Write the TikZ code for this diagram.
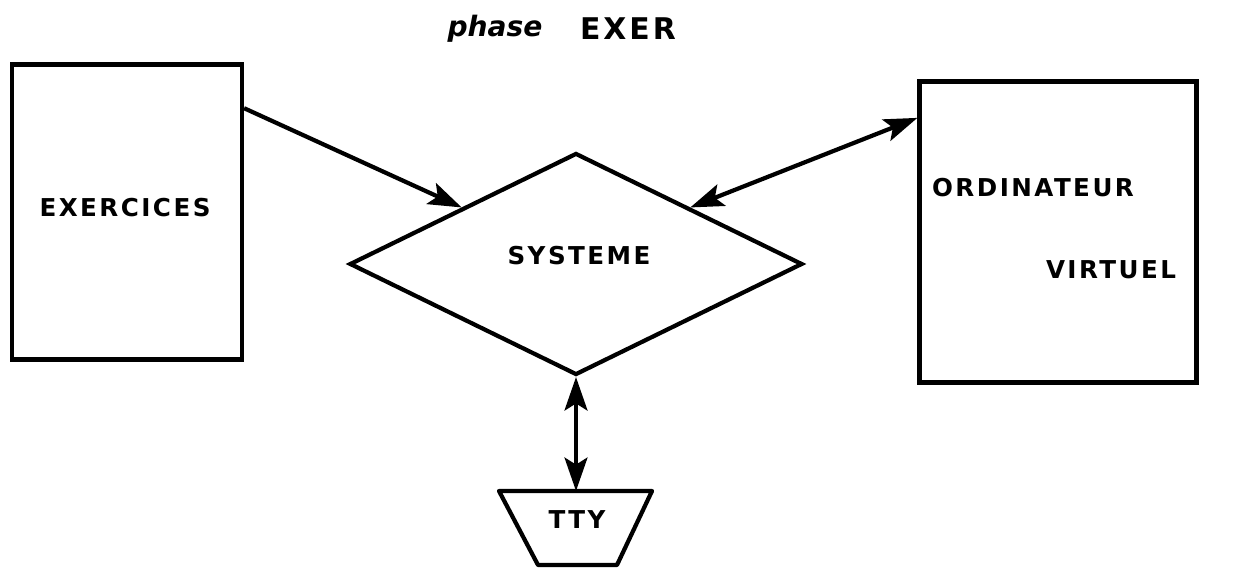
\documentclass[tikz,border=0pt]{standalone}
\usepackage{fontspec}
\setmainfont{DejaVu Sans}
\newfontfamily\handfont{DejaVu Sans}[LetterSpace=10]
\usetikzlibrary{shapes.geometric,arrows.meta,calc}
\begin{document}
\begin{tikzpicture}[x=0.02cm,y=-0.02cm,
  box/.style={draw,line width=2.4pt,inner sep=0pt},
  lbl/.style={font=\handfont\bfseries\fontsize{14}{16}\selectfont,inner sep=0pt},
  conn/.style={line width=2.4pt,-{Stealth[length=19pt,width=13pt,inset=4pt]}},
  dconn/.style={line width=2.4pt,{Stealth[length=19pt,width=13pt,inset=4pt]}-{Stealth[length=19pt,width=13pt,inset=4pt]}}]
\useasboundingbox (0,0) rectangle (1237,571);
% boxes
\node[box,minimum width=4.6cm,minimum height=5.9cm] (ex) at (127,212) {};
\node[box,minimum width=5.54cm,minimum height=6.02cm] (ord) at (1058,232) {};
\node[draw,line width=2.4pt,diamond,inner sep=0pt,minimum width=9.06cm,minimum height=4.44cm] (sys) at (576,264) {};
% TTY trapezoid
\coordinate (ttl) at (499,491);
\coordinate (ttr) at (652,491);
\coordinate (tbr) at (617,565);
\coordinate (tbl) at (538,565);
\coordinate (ttop) at (576,491);
\draw[line width=2.4pt,line join=round] (ttl) -- (ttr) -- (tbr) -- (tbl) -- cycle;
% texts
\node[lbl] (t1) at (125,208) {EXERCICES};
\node[lbl] (t2) at (579,256) {SYSTEME};
\node[lbl] (t3) at (1033,188) {ORDINATEUR};
\node[lbl] (t4) at (1111,270) {VIRTUEL};
\node[lbl] (t5) at (577,520) {TTY};
\node[inner sep=0pt,anchor=base,font=\itshape\bfseries\fontsize{16}{18}\selectfont] (ph) at (495,37) {phase};
\node[lbl,anchor=base,font=\handfont\bfseries\fontsize{17}{19}\selectfont] (ex2) at (628,40) {EXER};
% connectors
\coordinate (a1) at ($(ex.north east)!0.153!(ex.south east)$);
\coordinate (a2) at ($(ord.north west)!0.126!(ord.south west)$);
\draw[conn] (a1) -- (sys.north west);
\draw[dconn] (sys.north east) -- (a2);
\draw[dconn] (sys.south) -- (ttop);
\end{tikzpicture}
\end{document}
